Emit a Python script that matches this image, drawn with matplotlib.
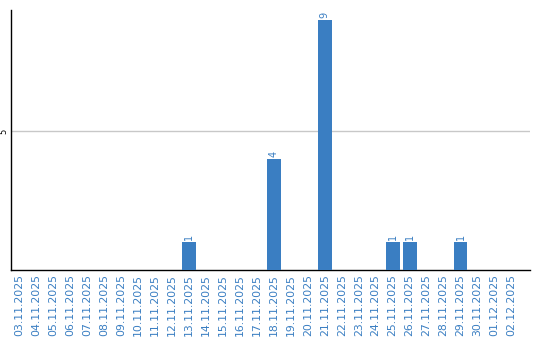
import matplotlib
matplotlib.use("Agg")
import matplotlib.pyplot as plt

fechas = ["03.11.2025", "04.11.2025", "05.11.2025", "06.11.2025", "07.11.2025",
          "08.11.2025", "09.11.2025", "10.11.2025", "11.11.2025", "12.11.2025",
          "13.11.2025", "14.11.2025", "15.11.2025", "16.11.2025", "17.11.2025",
          "18.11.2025", "19.11.2025", "20.11.2025", "21.11.2025", "22.11.2025",
          "23.11.2025", "24.11.2025", "25.11.2025", "26.11.2025", "27.11.2025",
          "28.11.2025", "29.11.2025", "30.11.2025", "01.12.2025", "02.12.2025"]
valores = [0, 0, 0, 0, 0, 0, 0, 0, 0, 0,
           1, 0, 0, 0, 0, 4, 0, 0, 9, 0,
           0, 0, 1, 1, 0, 0, 1, 0, 0, 0]

azul = "#3a7ec2"

fig = plt.figure(figsize=(5.4, 3.4), dpi=100)
ax = fig.add_axes([11/540, 1 - 270/340, 519/540, 260/340])

x = list(range(len(fechas)))
ax.bar(x, valores, width=0.82, color=azul, zorder=3)

# etiquetas solo en barras con valor
for xi, v in zip(x, valores):
    if v > 0:
        ax.text(xi, v + 0.08, str(v), rotation=90, ha="center", va="bottom",
                color=azul, fontsize=7)

ax.set_xlim(-0.5, 30.1)
ax.set_ylim(0, 9.35)
ax.set_yticks([5])
ax.set_yticklabels(["5"], rotation=90, va="center", fontsize=6)
ax.yaxis.grid(True, color="#c8c8c8", linewidth=1, zorder=0)

ax.set_xticks(x)
ax.set_xticklabels(fechas, rotation=90, color=azul, fontsize=7.8)
ax.tick_params(axis="x", length=0, pad=3)
ax.tick_params(axis="y", length=0, pad=2)

for lado in ["top", "right"]:
    ax.spines[lado].set_visible(False)
for lado in ["left", "bottom"]:
    ax.spines[lado].set_color("black")
    ax.spines[lado].set_linewidth(1.0)

fig.savefig("out.png", dpi=100)
